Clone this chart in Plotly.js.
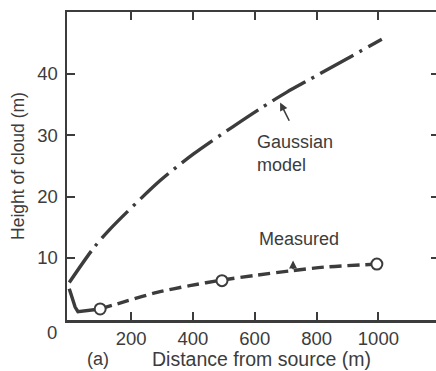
<!DOCTYPE html>
<html><head><meta charset="utf-8">
<script src="https://cdn.plot.ly/plotly-3.0.1.min.js"></script>
<style>html,body{margin:0;padding:0;overflow:hidden;background:#fff;width:436px;height:371px}</style>
</head><body><div id="chart"></div>
<script>
// Gaussian model curve
const gaussX = [0, 77, 132, 294, 401, 530, 617, 704, 779, 1011];
const gaussY = [6.0, 11.5, 14.7, 22.6, 26.9, 31.4, 34.3, 37.0, 39.1, 45.6];
// Measured curve: kink near the source, then the smooth part through the circles
const measNearX = [0, 9, 19, 28, 61, 100];
const measNearY = [5.0, 3.4, 2.0, 1.25, 1.4, 1.7];
const measFarX = [100, 187, 284, 390, 494, 606, 715, 823, 995];
const measFarY = [1.7, 3.0, 4.4, 5.5, 6.4, 7.2, 7.9, 8.5, 9.0];
const measPtsX = [100, 494, 995];
const measPtsY = [1.7, 6.3, 9.0];
const xTicks = [200, 400, 600, 800, 1000];
const yTicks = [10, 20, 30, 40];

const ink = '#3c3c3c';
const fontFam = '"Liberation Sans", Arial, sans-serif';

const traces = [
  {x: gaussX, y: gaussY, mode: 'lines', line: {color: ink, width: 3.4, dash: '38px,7px,3px,7px', shape: 'spline', smoothing: 0.8}, hoverinfo: 'skip'},
  {x: measNearX, y: measNearY, mode: 'lines', line: {color: ink, width: 3.4, shape: 'linear'}, hoverinfo: 'skip'},
  {x: measFarX, y: measFarY, mode: 'lines', line: {color: ink, width: 3.4, dash: '12px,6px', shape: 'spline', smoothing: 0.8}, hoverinfo: 'skip'},
  {x: measPtsX, y: measPtsY, mode: 'markers', marker: {symbol: 'circle', size: 11, color: '#fff', line: {color: ink, width: 2}}, hoverinfo: 'skip'}
];

const layout = {
  width: 440, height: 371,
  margin: {l: 67, r: 1, t: 12, b: 51},
  paper_bgcolor: '#fff', plot_bgcolor: '#fff',
  showlegend: false,
  font: {family: fontFam, color: ink},
  xaxis: {
    range: [-7.3, 1196], tickvals: xTicks, ticktext: xTicks.map(String),
    ticks: 'inside', ticklen: 8, tickwidth: 2, tickcolor: ink,
    showline: true, linewidth: 2.5, linecolor: ink, mirror: 'ticks',
    showgrid: false, zeroline: false,
    tickfont: {size: 18.5, color: ink}
  },
  yaxis: {
    range: [-0.1, 50.05], tickvals: yTicks, ticktext: yTicks.map(String),
    ticks: 'inside', ticklen: 8, tickwidth: 2, tickcolor: ink,
    showline: true, linewidth: 2.5, linecolor: ink, mirror: 'ticks',
    showgrid: false, zeroline: false,
    tickfont: {size: 18.5, color: ink},
    ticklabelstandoff: 3,
    title: {text: 'Height of cloud (m)', font: {size: 17.5, color: ink}, standoff: 8}
  },
  annotations: [
    {text: 'Distance from source (m)', xref: 'paper', yref: 'paper', x: 0.524, y: -0.128, xanchor: 'center', yanchor: 'middle', borderpad: 0, showarrow: false, font: {size: 19.5, color: ink}},
    {text: '0', xref: 'paper', yref: 'paper', x: -0.04, y: -0.042, xanchor: 'center', yanchor: 'middle', showarrow: false, font: {size: 18.5, color: ink}},
    {text: '(a)', xref: 'paper', yref: 'paper', x: 0.083, y: -0.128, xanchor: 'center', yanchor: 'middle', borderpad: 0, showarrow: false, font: {size: 18, color: ink}},
    {text: 'Gaussian<br>model', xref: 'x', yref: 'y', x: 600, y: 27.0, xanchor: 'left', yanchor: 'middle', align: 'left', showarrow: false, font: {size: 18, color: ink}},
    {text: '', xref: 'x', yref: 'y', x: 682, y: 35.3, ax: 714, ay: 32.1, axref: 'x', ayref: 'y', showarrow: true, arrowhead: 2, arrowsize: 1, arrowwidth: 1.6, arrowcolor: ink},
    {text: 'Measured', xref: 'x', yref: 'y', x: 744, y: 13.1, xanchor: 'center', yanchor: 'middle', showarrow: false, font: {size: 18, color: ink}},
    {text: '', xref: 'x', yref: 'y', x: 724, y: 9.6, ax: 724, ay: 7.9, axref: 'x', ayref: 'y', showarrow: true, arrowhead: 2, arrowsize: 1, arrowwidth: 1.6, arrowcolor: ink}
  ]
};

Plotly.newPlot('chart', traces, layout, {displayModeBar: false, staticPlot: true});
</script></body></html>
